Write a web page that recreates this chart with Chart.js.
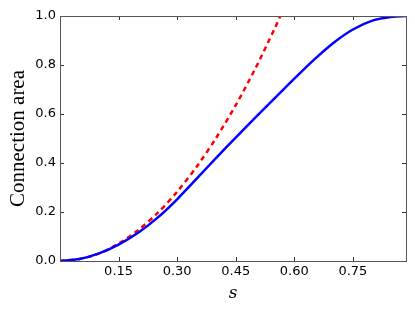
<!DOCTYPE html>
<html>
<head>
<meta charset="utf-8">
<script src="https://cdn.jsdelivr.net/npm/chart.js@4/dist/chart.umd.min.js"></script>
<style>
  html, body { margin: 0; padding: 0; background: #fff; }
  #wrap { width: 415px; height: 312px; }
</style>
</head>
<body>
<div id="wrap"><canvas id="chart"></canvas></div>
<script>
// values
const sBlue = [0, 0.05, 0.1, 0.15, 0.2, 0.25, 0.3, 0.35, 0.4, 0.45, 0.5, 0.55, 0.6, 0.65, 0.7, 0.75, 0.8, 0.85, 0.886]
const areaBlue = [0, 0.008, 0.031, 0.067, 0.115, 0.177, 0.252, 0.336, 0.421, 0.504, 0.585, 0.665, 0.744, 0.821, 0.89, 0.945, 0.981, 0.997, 1.0]
const sRed = [0, 0.05, 0.1, 0.15, 0.2, 0.25, 0.3, 0.35, 0.4, 0.45, 0.5, 0.55, 0.564]
const areaRed = [0, 0.008, 0.031, 0.071, 0.126, 0.196, 0.283, 0.385, 0.503, 0.636, 0.785, 0.95, 1.0]
const xTicks = [0.15, 0.3, 0.45, 0.6, 0.75]
const yTicks = [0, 0.2, 0.4, 0.6, 0.8, 1.0]

function points(xs, ys) {
  return xs.map(function (x, i) { return { x: x, y: ys[i] } })
}

// matplotlib-style inward ticks on all four sides
const inwardTicks = {
  id: 'inwardTicks',
  afterDraw: function (chart) {
    const ctx = chart.ctx
    const a = chart.chartArea
    const xs = chart.scales.x
    const ys = chart.scales.y
    ctx.save()
    ctx.strokeStyle = '#333'
    ctx.lineWidth = 1
    ctx.beginPath()
    xTicks.forEach(function (v) {
      const px = Math.round(xs.getPixelForValue(v)) + 0.5
      ctx.moveTo(px, a.bottom); ctx.lineTo(px, a.bottom - 4)
      ctx.moveTo(px, a.top); ctx.lineTo(px, a.top + 4)
    })
    yTicks.forEach(function (v) {
      const py = Math.round(ys.getPixelForValue(v)) + 0.5
      ctx.moveTo(a.left, py); ctx.lineTo(a.left + 4, py)
      ctx.moveTo(a.right, py); ctx.lineTo(a.right - 4, py)
    })
    ctx.stroke()
    ctx.strokeStyle = '#555'
    ctx.strokeRect(Math.round(a.left) + 0.5, Math.round(a.top) + 0.5, Math.round(a.right - a.left), Math.round(a.bottom - a.top))
    ctx.restore()
  }
}

new Chart(document.getElementById('chart'), {
  type: 'line',
  data: {
    datasets: [
      {
        data: points(sBlue, areaBlue),
        borderColor: '#0000ff',
        borderWidth: 2.5,
        pointRadius: 0,
        tension: 0.3,
        fill: false,
      },
      {
        data: points(sRed, areaRed),
        borderColor: '#ff0000',
        borderWidth: 2.5,
        borderDash: [5, 4],
        pointRadius: 0,
        tension: 0.3,
        fill: false,
      },
    ],
  },
  options: {
    animation: false,
    responsive: true,
    maintainAspectRatio: false,
    layout: { padding: { top: 16, right: 9, left: 0, bottom: 0 } },
    plugins: { legend: { display: false }, tooltip: { enabled: false } },
    scales: {
      x: {
        type: 'linear',
        min: 0,
        max: 0.886,
        grid: { display: false, drawTicks: false },
        border: { display: false },
        afterBuildTicks: function (scale) {
          scale.ticks = xTicks.map(function (v) { return { value: v } })
        },
        afterFit: function (scale) { scale.height = 51 },
        ticks: {
          padding: 3,
          color: '#000',
          font: { family: 'DejaVu Sans', size: 13 },
          maxRotation: 0,
          callback: function (v) { return v.toFixed(2) },
        },
        title: {
          display: true,
          text: 's',
          color: '#000',
          font: { family: 'DejaVu Serif', size: 17, style: 'italic' },
          padding: { top: 0, bottom: 8 },
        },
      },
      y: {
        min: 0,
        max: 1,
        grid: { display: false, drawTicks: false },
        border: { display: false },
        afterBuildTicks: function (scale) {
          scale.ticks = yTicks.map(function (v) { return { value: v } })
        },
        afterFit: function (scale) { scale.width = 60 },
        ticks: {
          padding: 4,
          color: '#000',
          font: { family: 'DejaVu Sans', size: 13 },
          callback: function (v) { return v.toFixed(1) },
        },
        title: {
          display: true,
          text: 'Connection area',
          color: '#000',
          font: { family: 'Liberation Serif', size: 21 },
          padding: { top: 6, bottom: 0 },
        },
      },
    },
  },
  plugins: [inwardTicks],
})
</script>
</body>
</html>
